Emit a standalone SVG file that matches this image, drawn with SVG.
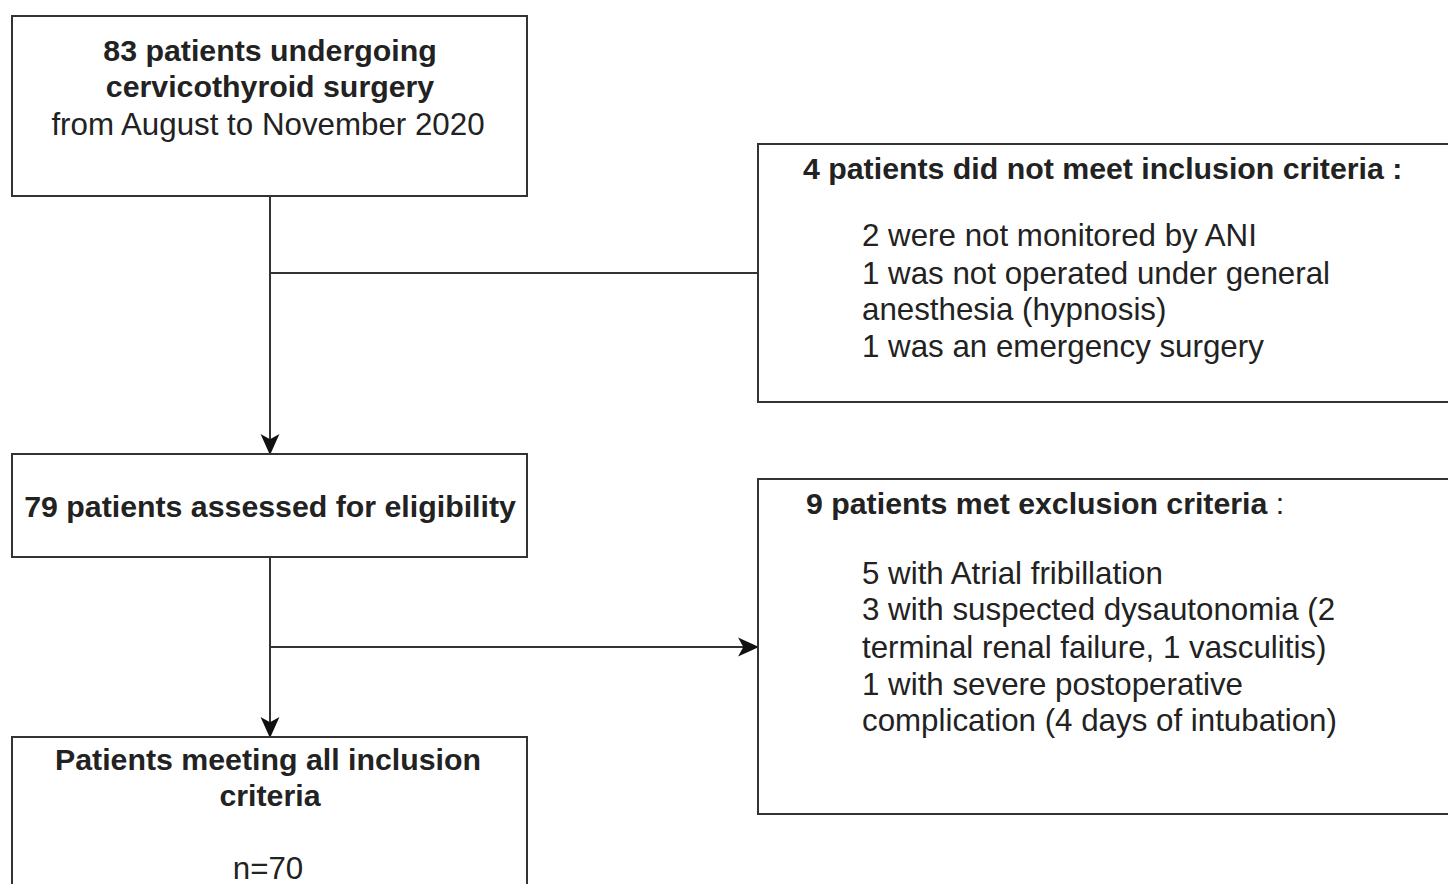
<svg xmlns="http://www.w3.org/2000/svg" width="1448" height="884" viewBox="0 0 1448 884">
<style>
.box{fill:#fff;stroke:#333;stroke-width:2}
.c{stroke:#333;stroke-width:2;fill:none}
text{font-family:"Liberation Sans",Arial,sans-serif;fill:#222}
.b{font-weight:bold;font-size:30.3px}
.r{font-size:31.3px}
.m{text-anchor:middle}
</style>
<defs>
<marker id="ah" viewBox="0 0 20 20" refX="19" refY="10" markerWidth="21" markerHeight="21" markerUnits="userSpaceOnUse" orient="auto">
<path d="M0,1 L20,10 L0,19 L5,10 z" fill="#111"/>
</marker>
</defs>
<rect width="1448" height="884" fill="#fff"/>
<g id="connectors">
<line class="c" x1="270" y1="196" x2="270" y2="454" marker-end="url(#ah)"/>
<line class="c" x1="270" y1="273" x2="758" y2="273"/>
<line class="c" x1="270" y1="557" x2="270" y2="737" marker-end="url(#ah)"/>
<line class="c" x1="270" y1="647" x2="758" y2="647" marker-end="url(#ah)"/>
</g>
<g id="n1">
<rect class="box" x="12" y="16" width="515" height="180"/>
<text class="b m" x="270" y="61">83 patients undergoing</text>
<text class="b m" x="270" y="97">cervicothyroid surgery</text>
<text class="r m" x="268" y="135">from August to November 2020</text>
</g>
<g id="n2">
<rect class="box" x="758" y="144" width="710" height="258"/>
<text class="b" x="803" y="179">4 patients did not meet inclusion criteria :</text>
<text class="r" x="862" y="246">2 were not monitored by ANI</text>
<text class="r" x="862" y="284">1 was not operated under general</text>
<text class="r" x="862" y="320">anesthesia (hypnosis)</text>
<text class="r" x="862" y="357">1 was an emergency surgery</text>
</g>
<g id="n3">
<rect class="box" x="12" y="454" width="515" height="103"/>
<text class="b m" x="270" y="517">79 patients assessed for eligibility</text>
</g>
<g id="n4">
<rect class="box" x="758" y="479" width="710" height="335"/>
<text class="b" x="806" y="514">9 patients met exclusion criteria <tspan font-weight="normal">:</tspan></text>
<text class="r" x="862" y="584">5 with Atrial fribillation</text>
<text class="r" x="862" y="620">3 with suspected dysautonomia (2</text>
<text class="r" x="862" y="658">terminal renal failure, 1 vasculitis)</text>
<text class="r" x="862" y="695">1 with severe postoperative</text>
<text class="r" x="862" y="731">complication (4 days of intubation)</text>
</g>
<g id="n5">
<rect class="box" x="12" y="737" width="515" height="170"/>
<text class="b m" x="268" y="770">Patients meeting all inclusion</text>
<text class="b m" x="270" y="806">criteria</text>
<text class="r m" x="268" y="879">n=70</text>
</g>
</svg>
